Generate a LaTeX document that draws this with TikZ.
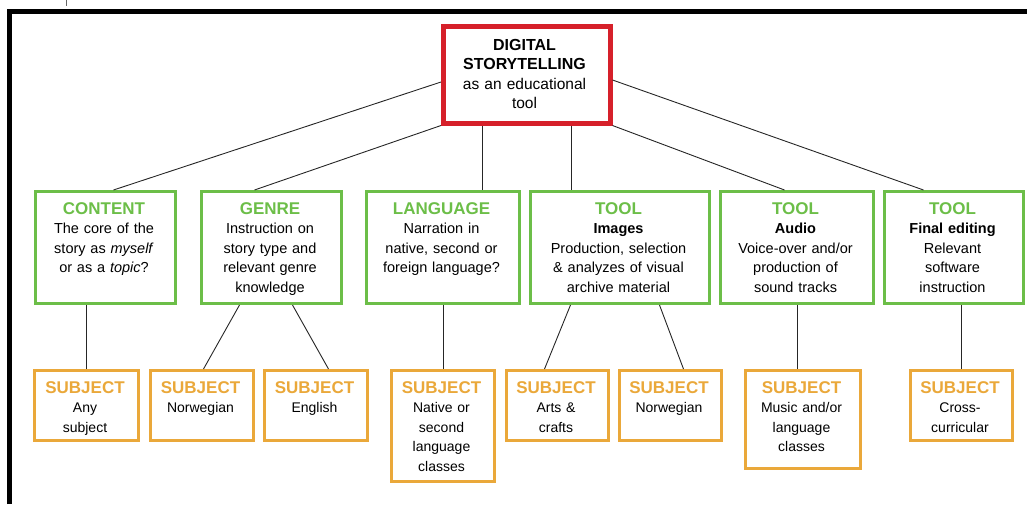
\documentclass[tikz,border=0pt]{standalone}
\usepackage{fontspec}
\setmainfont{Liberation Sans}
\definecolor{tgreen}{RGB}{108,190,72}
\definecolor{torange}{RGB}{234,168,58}
\definecolor{tred}{RGB}{214,32,42}
\newcommand{\gtitle}[1]{{\fontsize{17}{19.5}\selectfont\bfseries\color{tgreen}#1}}
\newcommand{\otitle}[1]{{\fontsize{17}{19.5}\selectfont\bfseries\color{torange}#1}}
\newcommand{\rtitle}[1]{{\fontsize{16}{19.5}\selectfont\bfseries #1}}
\tikzset{
  gbox/.style={draw=tgreen, line width=3pt, anchor=north west, inner sep=0pt, outer sep=1.5pt},
  obox/.style={draw=torange, line width=3pt, anchor=north west, inner sep=0pt, outer sep=1.5pt},
  rbox/.style={draw=tred, line width=4.5pt, anchor=north west, inner sep=0pt, outer sep=2.25pt},
  rtext/.style={anchor=base, align=center, inner sep=0pt, font=\fontsize{15.5}{19.5}\selectfont},
  gtext/.style={anchor=base, align=center, inner sep=0pt, font=\fontsize{14.5}{19.5}\selectfont},
  otext/.style={anchor=base, align=center, inner sep=0pt, font=\fontsize{14}{19.5}\selectfont},
  conn/.style={draw=black!85, line width=0.9pt},
}
\begin{document}
\begin{tikzpicture}[x=1pt,y=-1pt]
\useasboundingbox (0,0) rectangle (1027,504);
% frame
\draw[line width=4.5pt, line join=miter] (9.5,504) -- (9.5,11.5) -- (1027,11.5);
\draw[black!60, line width=0.8pt] (66,0) -- (66,6);

% root
\node[rbox, minimum width=167pt, minimum height=97pt] (root) at (441,24) {};
\node[rtext, text width=165pt] (rootT) at (524.5,50)
  {\rtitle{DIGITAL}\\\rtitle{STORYTELLING}\\as an educational\\tool};

% level 2 boxes
\node[gbox, minimum width=140pt, minimum height=112pt] (content) at (34,190) {};
\node[gbox, minimum width=140pt, minimum height=112pt] (genre) at (200,190) {};
\node[gbox, minimum width=153pt, minimum height=112pt] (lang) at (365,190) {};
\node[gbox, minimum width=179pt, minimum height=112pt] (images) at (529,190) {};
\node[gbox, minimum width=153pt, minimum height=112pt] (audio) at (719,190) {};
\node[gbox, minimum width=139pt, minimum height=112pt] (final) at (883,190) {};

\node[gtext, text width=138pt] (contentT) at (104,214)
  {\gtitle{CONTENT}\\The core of the\\story as \textit{myself}\\or as a \textit{topic}?};
\node[gtext, text width=138pt] (genreT) at (270,214)
  {\gtitle{GENRE}\\Instruction on\\story type and\\relevant genre\\knowledge};
\node[gtext, text width=150pt] (langT) at (441.5,214)
  {\gtitle{LANGUAGE}\\Narration in\\native, second or\\foreign language?};
\node[gtext, text width=176pt] (imagesT) at (618.5,214)
  {\gtitle{TOOL}\\\textbf{Images}\\Production, selection\\\& analyzes of visual\\archive material};
\node[gtext, text width=150pt] (audioT) at (795.5,214)
  {\gtitle{TOOL}\\\textbf{Audio}\\Voice-over and/or\\production of\\sound tracks};
\node[gtext, text width=136pt] (finalT) at (952.5,214)
  {\gtitle{TOOL}\\\textbf{Final editing}\\Relevant\\software\\instruction};

% level 3 boxes
\node[obox, minimum width=104pt, minimum height=70pt] (anysub) at (33,369) {};
\node[obox, minimum width=103pt, minimum height=70pt] (norw) at (149,369) {};
\node[obox, minimum width=103pt, minimum height=70pt] (engl) at (263,369) {};
\node[obox, minimum width=103pt, minimum height=111pt] (native) at (390,369) {};
\node[obox, minimum width=102pt, minimum height=70pt] (arts) at (505,369) {};
\node[obox, minimum width=102pt, minimum height=70pt] (norwb) at (618,369) {};
\node[obox, minimum width=115pt, minimum height=98pt] (music) at (744,369) {};
\node[obox, minimum width=102pt, minimum height=70pt] (cross) at (909,369) {};

\node[otext, text width=100pt] (anysubT) at (85,393) {\otitle{SUBJECT}\\Any\\subject};
\node[otext, text width=100pt] (norwT) at (200.5,393) {\otitle{SUBJECT}\\Norwegian};
\node[otext, text width=100pt] (englT) at (314.5,393) {\otitle{SUBJECT}\\English};
\node[otext, text width=100pt] (nativeT) at (441.5,393) {\otitle{SUBJECT}\\Native or\\second\\language\\classes};
\node[otext, text width=100pt] (artsT) at (556,393) {\otitle{SUBJECT}\\Arts \&\\crafts};
\node[otext, text width=100pt] (norwbT) at (669,393) {\otitle{SUBJECT}\\Norwegian};
\node[otext, text width=112pt] (musicT) at (801.5,393) {\otitle{SUBJECT}\\Music and/or\\language\\classes};
\node[otext, text width=100pt] (crossT) at (960,393) {\otitle{SUBJECT}\\Cross-\\curricular};

% connectors root -> level 2
\draw[conn] ([yshift=-58pt]root.north west) -- ([xshift=8pt]content.north);
\draw[conn] (root.south west) -- ([xshift=-17pt]genre.north);
\draw[conn] ([xshift=-44.5pt]root.south) -- ([xshift=-44.5pt]root.south |- lang.north);
\draw[conn] ([xshift=44.5pt]root.south) -- ([xshift=44.5pt]root.south |- images.north);
\draw[conn] (root.south east) -- ([xshift=-12.5pt]audio.north);
\draw[conn] ([yshift=-56pt]root.north east) -- ([xshift=-30.5pt]final.north);

% connectors level 2 -> level 3
\draw[conn] (anysub.north |- content.south) -- (anysub.north);
\draw[conn] ([xshift=-32pt]genre.south) -- ([xshift=1.5pt]norw.north);
\draw[conn] ([xshift=21pt]genre.south) -- ([xshift=12.5pt]engl.north);
\draw[conn] (native.north |- lang.south) -- (native.north);
\draw[conn] ([xshift=-49.5pt]images.south) -- ([xshift=-13pt]arts.north);
\draw[conn] ([xshift=39.5pt]images.south) -- ([xshift=13pt]norwb.north);
\draw[conn] (audio.south) -- (audio.south |- music.north);
\draw[conn] (cross.north |- final.south) -- (cross.north);
\end{tikzpicture}
\end{document}
